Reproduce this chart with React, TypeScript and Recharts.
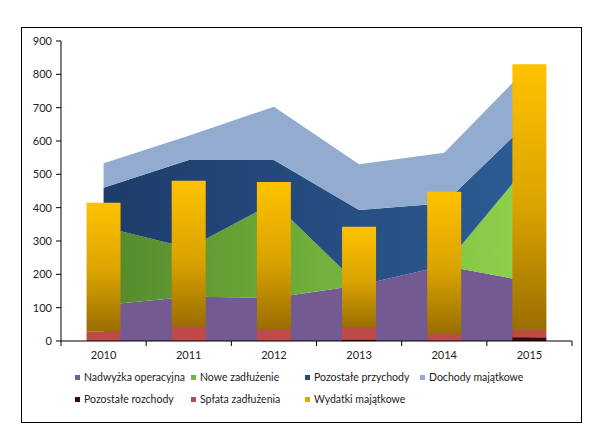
import React from 'react';
import { ComposedChart, Area, Bar, XAxis, YAxis } from 'recharts';

const years = ['2010', '2011', '2012', '2013', '2014', '2015'];

// przychody (warstwy)
const nadwyzkaOperacyjna = [108, 133, 130, 167, 226, 178];
const noweZadluzenie = [234, 146, 285, 0, 0, 355];
const pozostalePrzychody = [118, 264, 128, 226, 187, 127];
const dochodyMajatkowe = [73, 73, 160, 137, 152, 166];

// rozchody (słupki)
const pozostaleRozchody = [0, 0, 0, 4, 0, 11];
const splataZadluzenia = [28, 43, 35, 36, 21, 22];
const wydatkiMajatkowe = [387, 438, 442, 303, 427, 797];

const yTicks = [0, 100, 200, 300, 400, 500, 600, 700, 800, 900];

const data = years.map((year, i) => ({
  year,
  nadwyzka: nadwyzkaOperacyjna[i],
  nowe: noweZadluzenie[i],
  pozPrzych: pozostalePrzychody[i],
  dochody: dochodyMajatkowe[i],
  pozRozch: pozostaleRozchody[i],
  splata: splataZadluzenia[i],
  wydatki: wydatkiMajatkowe[i],
}));

const FONT = 'Lato, "Open Sans", sans-serif';
const PLOT_LEFT = 61;
const PLOT_RIGHT = 28;
const BAND = (600 - PLOT_LEFT - PLOT_RIGHT) / years.length;

const legendItems = [
  { name: 'Nadwyżka operacyjna', color: '#735A93' },
  { name: 'Nowe zadłużenie', color: '#77B53C' },
  { name: 'Pozostałe przychody', color: '#254A7E' },
  { name: 'Dochody majątkowe', color: '#94ABD0' },
  { name: 'Pozostałe rozchody', color: '#3A0A0A' },
  { name: 'Spłata zadłużenia', color: '#BE4B48' },
  { name: 'Wydatki majątkowe', color: '#E0A800' },
];

function YearTick(props: any) {
  const { x, y, payload, index } = props;
  const last = index === years.length - 1;
  return (
    <g>
      <line x1={x - BAND / 2} x2={x - BAND / 2} y1={y} y2={y + 5} stroke="#000" />
      {last && <line x1={x + BAND / 2} x2={x + BAND / 2} y1={y} y2={y + 5} stroke="#000" />}
      <text x={x} y={y + 18} textAnchor="middle" fontSize={11} fontFamily={FONT} fill="#222">
        {payload.value}
      </text>
    </g>
  );
}

export default function App() {
  return (
    <div style={{ position: 'absolute', left: 0, top: 0, width: 600, height: 444, background: '#fff' }}>
      <div
        style={{
          position: 'absolute', left: 21, top: 27, width: 559, height: 394,
          border: '1px solid #000',
        }}
      />
      <div style={{ position: 'absolute', left: 0, top: 0 }}>
        <ComposedChart
          width={600}
          height={360}
          data={data}
          margin={{ top: 41, right: PLOT_RIGHT, left: 0, bottom: 0 }}
          barCategoryGap="30%"
        >
          <defs>
            <linearGradient id="gNowe" x1="0" y1="0" x2="1" y2="0">
              <stop offset="0%" stopColor="#538A2C" />
              <stop offset="100%" stopColor="#90D34C" />
            </linearGradient>
            <linearGradient id="gPoz" x1="0" y1="0" x2="1" y2="0">
              <stop offset="0%" stopColor="#1E3C69" />
              <stop offset="100%" stopColor="#2C5C95" />
            </linearGradient>
            <linearGradient id="gWyd" x1="0" y1="0" x2="0" y2="1">
              <stop offset="0%" stopColor="#FFC200" />
              <stop offset="55%" stopColor="#D9A200" />
              <stop offset="100%" stopColor="#9A6E00" />
            </linearGradient>
          </defs>
          <XAxis
            dataKey="year"
            axisLine={{ stroke: '#000' }}
            tickLine={false}
            tickSize={0}
            tickMargin={0}
            height={19}
            tick={<YearTick />}
            interval={0}
          />
          <YAxis
            width={PLOT_LEFT}
            domain={[0, 900]}
            ticks={yTicks}
            axisLine={{ stroke: '#000' }}
            tickLine={{ stroke: '#000' }}
            tickSize={5}
            tickMargin={4}
            tick={{ fontSize: 11, fontFamily: FONT, fill: '#222' }}
          />
          <Area type="linear" dataKey="nadwyzka" stackId="a" stroke="none" fill="#735A93" fillOpacity={1} isAnimationActive={false} />
          <Area type="linear" dataKey="nowe" stackId="a" stroke="none" fill="url(#gNowe)" fillOpacity={1} isAnimationActive={false} />
          <Area type="linear" dataKey="pozPrzych" stackId="a" stroke="none" fill="url(#gPoz)" fillOpacity={1} isAnimationActive={false} />
          <Area type="linear" dataKey="dochody" stackId="a" stroke="none" fill="#94ABD0" fillOpacity={1} isAnimationActive={false} />
          <Bar dataKey="pozRozch" stackId="b" fill="#3A0A0A" isAnimationActive={false} />
          <Bar dataKey="splata" stackId="b" fill="#BE4B48" isAnimationActive={false} />
          <Bar dataKey="wydatki" stackId="b" fill="url(#gWyd)" isAnimationActive={false} />
        </ComposedChart>
      </div>
      <div
        style={{
          position: 'absolute', left: 75, top: 369, width: 480,
          display: 'grid', gridTemplateColumns: '116px 114px 115px 130px', rowGap: 6,
          fontFamily: FONT, fontSize: 10.5, color: '#222', lineHeight: '16px',
        }}
      >
        {legendItems.map((item) => (
          <div key={item.name} style={{ display: 'flex', alignItems: 'center', whiteSpace: 'nowrap' }}>
            <span style={{ display: 'inline-block', flexShrink: 0, width: 5, height: 5, background: item.color, marginRight: 4 }} />
            {item.name}
          </div>
        ))}
      </div>
    </div>
  );
}
